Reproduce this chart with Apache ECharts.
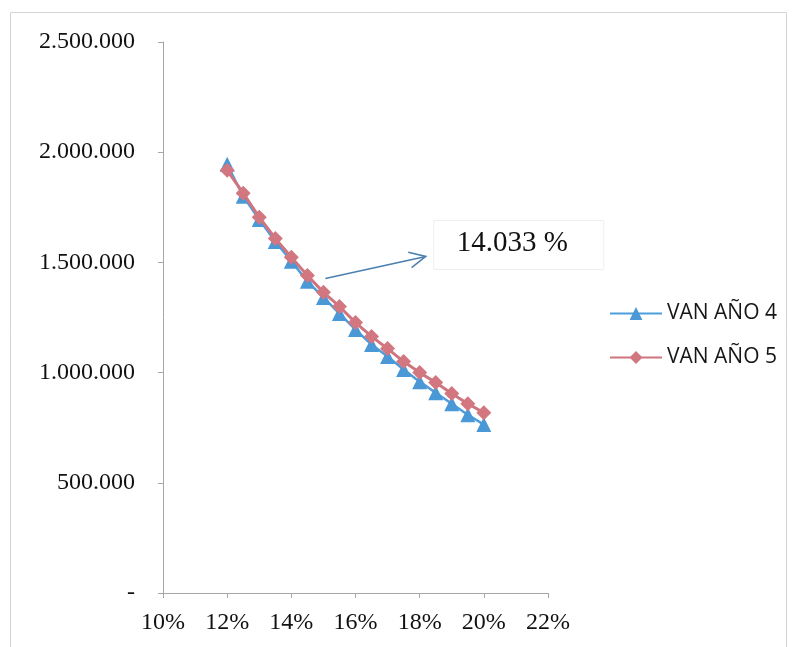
<!DOCTYPE html>
<html>
<head>
<meta charset="utf-8">
<script src="https://cdn.jsdelivr.net/npm/echarts@6/dist/echarts.min.js"></script>
<style>
  html, body { margin: 0; padding: 0; background: #fff; }
  #chart { width: 797px; height: 647px; }
</style>
</head>
<body>
<div id="chart"></div>
<script>
// Discount rates (%) at which the NPV was evaluated
const rates = [12, 12.5, 13, 13.5, 14, 14.5, 15, 15.5, 16, 16.5, 17, 17.5, 18, 18.5, 19, 19.5, 20];
// NPV, year 4
const vanAno4 = [1945000, 1800000, 1695000, 1595000, 1505000, 1414000, 1341000, 1268000, 1195000, 1127000, 1073000, 1014000, 959000, 909000, 859000, 809000, 764000];
// NPV, year 5
const vanAno5 = [1918000, 1814000, 1705000, 1609000, 1523000, 1441000, 1364000, 1300000, 1227000, 1164000, 1109000, 1050000, 1000000, 955000, 905000, 859000, 818000];
const seriesNames = ['VAN AÑO 4', 'VAN AÑO 5'];
const calloutText = '14.033 %';

function fmtMiles(v) {
  if (v === 0) return '-';
  return String(Math.round(v)).replace(/\B(?=(\d{3})+(?!\d))/g, '.');
}

const chart = echarts.init(document.getElementById('chart'));
const serif = '"Liberation Serif", "Times New Roman", serif';
const axisGray = '#a6a6a6';

chart.setOption({
  backgroundColor: '#ffffff',
  animation: false,
  grid: { left: 163, right: 249, top: 42, bottom: 54 },
  xAxis: {
    type: 'value',
    min: 10, max: 22, interval: 2,
    axisLine: { show: true, lineStyle: { color: axisGray, width: 1 } },
    axisTick: { show: true, length: 5, lineStyle: { color: axisGray } },
    splitLine: { show: false },
    axisLabel: {
      formatter: v => v + '%',
      fontFamily: serif, fontSize: 24, color: '#111', margin: 18
    }
  },
  yAxis: {
    type: 'value',
    min: 0, max: 2500000, interval: 500000,
    axisLine: { show: true, lineStyle: { color: axisGray, width: 1 } },
    axisTick: { show: true, inside: false, length: 5, lineStyle: { color: axisGray } },
    splitLine: { show: false },
    axisLabel: {
      formatter: fmtMiles,
      fontFamily: serif, fontSize: 24, color: '#111', margin: 28
    }
  },
  legend: {
    orient: 'vertical',
    left: 604, top: 298,
    itemWidth: 52, itemHeight: 16, itemGap: 23,
    textStyle: { fontFamily: '"Open Sans", "Liberation Sans", sans-serif', fontSize: 21, color: '#161616' },
    data: seriesNames
  },
  series: [
    {
      name: seriesNames[0],
      type: 'line',
      data: rates.map((r, i) => [r, vanAno4[i]]),
      symbol: 'triangle', symbolSize: 15,
      lineStyle: { color: '#4f9edb', width: 2.5 },
      itemStyle: { color: '#4a98d6' },
      z: 2
    },
    {
      name: seriesNames[1],
      type: 'line',
      data: rates.map((r, i) => [r, vanAno5[i]]),
      symbol: 'diamond', symbolSize: 15,
      lineStyle: { color: '#cf7580', width: 3 },
      itemStyle: { color: '#d2767f' },
      z: 3
    }
  ]
});

// Callout arrow and its text box, anchored in data space
const p0 = chart.convertToPixel({ gridIndex: 0 }, [15.06, 1427000]);
const p1 = chart.convertToPixel({ gridIndex: 0 }, [18.19, 1527000]);
const ang = Math.atan2(p1[1] - p0[1], p1[0] - p0[0]);
const headLen = 18, headSpread = 0.45;
const h1 = [p1[0] - headLen * Math.cos(ang - headSpread), p1[1] - headLen * Math.sin(ang - headSpread)];
const h2 = [p1[0] - headLen * Math.cos(ang + headSpread), p1[1] - headLen * Math.sin(ang + headSpread)];
const boxX = p1[0] + 8, boxY = p1[1] - 36;

chart.setOption({
  graphic: [
    {
      type: 'rect', silent: true, z: 0,
      shape: { x: 10.5, y: 12.5, width: 776, height: 640 },
      style: { fill: 'none', stroke: '#d4d4d4', lineWidth: 1 }
    },
    {
      type: 'rect', silent: true, z: 10,
      shape: { x: boxX, y: boxY, width: 170, height: 49 },
      style: { fill: '#ffffff', stroke: '#efefef', lineWidth: 1 }
    },
    {
      type: 'text', silent: true, z: 11,
      x: boxX + 23, y: boxY + 23,
      style: { text: calloutText, font: '29px ' + serif, fill: '#111', textVerticalAlign: 'middle' }
    },
    {
      type: 'line', silent: true, z: 10,
      shape: { x1: p0[0], y1: p0[1], x2: p1[0], y2: p1[1] },
      style: { stroke: '#4a7fb0', lineWidth: 1.5 }
    },
    {
      type: 'polyline', silent: true, z: 10,
      shape: { points: [h1, p1, h2] },
      style: { stroke: '#4a7fb0', lineWidth: 1.5, fill: 'none' }
    }
  ]
});
</script>
</body>
</html>
